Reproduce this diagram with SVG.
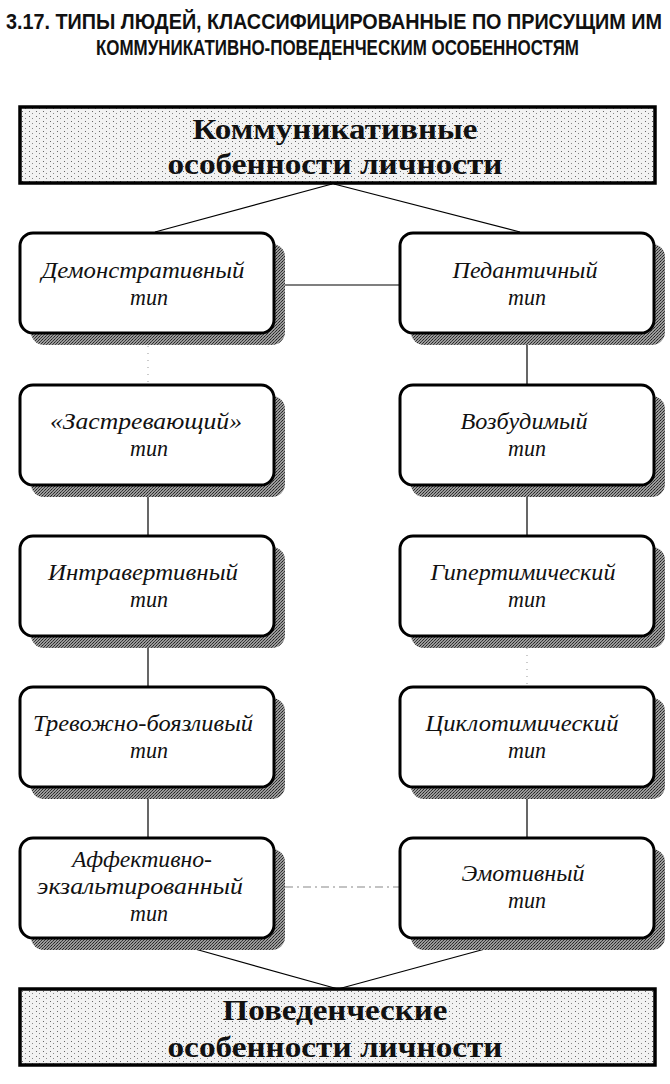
<svg xmlns="http://www.w3.org/2000/svg" width="670" height="1084" viewBox="0 0 670 1084">
<defs>
<pattern id="dots" width="7" height="5" patternUnits="userSpaceOnUse">
<rect width="7" height="5" fill="#f2f2f2"/>
<rect x="1" y="1" width="1" height="1" fill="#666"/>
<rect x="4" y="3" width="1" height="1" fill="#888"/>
</pattern>
<pattern id="shade" width="3" height="3" patternUnits="userSpaceOnUse">
<rect width="3" height="3" fill="#9a9a9a"/>
<rect x="0" y="0" width="1" height="1" fill="#222"/>
<rect x="2" y="1" width="1" height="1" fill="#333"/>
<rect x="1" y="2" width="1" height="1" fill="#444"/>
</pattern>
<style>
.title{font-family:"Liberation Sans",Arial,sans-serif;font-weight:bold;font-size:17px;fill:#111}
.big{fill:url(#dots);stroke:#000;stroke-width:3.5}
.bt{font-family:"Liberation Serif","Times New Roman",serif;font-weight:bold;font-size:30px;fill:#111;text-anchor:middle}
.shadow{fill:url(#shade)}
.node{fill:#fff;stroke:#000;stroke-width:3}
.nt{font-family:"Liberation Serif","Times New Roman",serif;font-style:italic;font-size:23px;fill:#111;text-anchor:middle}
.c{stroke:#000;stroke-width:1.2;fill:none}
.faint{stroke:#aaa;stroke-width:1.2;stroke-dasharray:1 6;fill:none}
.dashdot{stroke:#888;stroke-width:1.2;stroke-dasharray:8 4 2 4;fill:none}
</style>
</defs>
<rect width="670" height="1084" fill="#fff"/>
<g id="title" transform="scale(1,1.25)">
<text class="title" x="6" y="23.2" textLength="656" lengthAdjust="spacingAndGlyphs">3.17. ТИПЫ ЛЮДЕЙ, КЛАССИФИЦИРОВАННЫЕ ПО ПРИСУЩИМ ИМ</text>
<text class="title" x="96" y="44" textLength="483" lengthAdjust="spacingAndGlyphs">КОММУНИКАТИВНО-ПОВЕДЕНЧЕСКИМ ОСОБЕННОСТЯМ</text>
</g>
<g id="connectors">
<line class="c" x1="332" y1="184" x2="155" y2="232"/>
<line class="c" x1="334" y1="184" x2="520" y2="232"/>
<line class="c" x1="285" y1="285" x2="400" y2="285"/>
<line class="faint" x1="148" y1="346" x2="148" y2="384"/>
<line class="c" x1="527" y1="345" x2="527" y2="384"/>
<line class="c" x1="148" y1="497" x2="148" y2="535"/>
<line class="c" x1="527" y1="497" x2="527" y2="535"/>
<line class="c" x1="148" y1="648" x2="148" y2="686"/>
<line class="faint" x1="527" y1="648" x2="527" y2="686"/>
<line class="c" x1="148" y1="799" x2="148" y2="838"/>
<line class="c" x1="527" y1="799" x2="527" y2="838"/>
<line class="dashdot" x1="285" y1="887" x2="400" y2="887"/>
<line class="c" x1="195" y1="949" x2="338" y2="989"/>
<line class="c" x1="485" y1="949" x2="338" y2="989"/>
</g>
<g id="top">
<rect class="big" x="20" y="107" width="635" height="76"/>
<text class="bt" x="335" y="139" textLength="285" lengthAdjust="spacingAndGlyphs">Коммуникативные</text>
<text class="bt" x="335" y="174" textLength="335" lengthAdjust="spacingAndGlyphs">особенности личности</text>
</g>
<g id="n-demonstr">
<rect class="shadow" x="31" y="244" width="254" height="101" rx="13"/>
<rect class="node" x="20" y="233" width="254" height="100" rx="13"/>
<text class="nt" x="143" y="278" textLength="203" lengthAdjust="spacingAndGlyphs">Демонстративный</text>
<text class="nt" x="149" y="305" textLength="38" lengthAdjust="spacingAndGlyphs">тип</text>
</g>
<g id="n-pedant">
<rect class="shadow" x="411" y="244" width="254" height="101" rx="13"/>
<rect class="node" x="400" y="233" width="254" height="100" rx="13"/>
<text class="nt" x="525" y="278" textLength="145" lengthAdjust="spacingAndGlyphs">Педантичный</text>
<text class="nt" x="527" y="305" textLength="38" lengthAdjust="spacingAndGlyphs">тип</text>
</g>
<g id="n-zastr">
<rect class="shadow" x="31" y="396" width="254" height="101" rx="13"/>
<rect class="node" x="20" y="385" width="254" height="100" rx="13"/>
<text class="nt" x="146" y="429" textLength="192" lengthAdjust="spacingAndGlyphs">«Застревающий»</text>
<text class="nt" x="149" y="456" textLength="38" lengthAdjust="spacingAndGlyphs">тип</text>
</g>
<g id="n-vozb">
<rect class="shadow" x="411" y="396" width="254" height="101" rx="13"/>
<rect class="node" x="400" y="385" width="254" height="100" rx="13"/>
<text class="nt" x="524" y="429" textLength="127" lengthAdjust="spacingAndGlyphs">Возбудимый</text>
<text class="nt" x="527" y="456" textLength="38" lengthAdjust="spacingAndGlyphs">тип</text>
</g>
<g id="n-intra">
<rect class="shadow" x="31" y="547" width="254" height="101" rx="13"/>
<rect class="node" x="20" y="536" width="254" height="100" rx="13"/>
<text class="nt" x="143" y="580" textLength="190" lengthAdjust="spacingAndGlyphs">Интравертивный</text>
<text class="nt" x="149" y="607" textLength="38" lengthAdjust="spacingAndGlyphs">тип</text>
</g>
<g id="n-giper">
<rect class="shadow" x="411" y="547" width="254" height="101" rx="13"/>
<rect class="node" x="400" y="536" width="254" height="100" rx="13"/>
<text class="nt" x="523" y="580" textLength="185" lengthAdjust="spacingAndGlyphs">Гипертимический</text>
<text class="nt" x="527" y="607" textLength="38" lengthAdjust="spacingAndGlyphs">тип</text>
</g>
<g id="n-trev">
<rect class="shadow" x="31" y="698" width="254" height="101" rx="13"/>
<rect class="node" x="20" y="687" width="254" height="100" rx="13"/>
<text class="nt" x="143" y="731" textLength="220" lengthAdjust="spacingAndGlyphs">Тревожно-боязливый</text>
<text class="nt" x="149" y="758" textLength="38" lengthAdjust="spacingAndGlyphs">тип</text>
</g>
<g id="n-cyklo">
<rect class="shadow" x="411" y="698" width="254" height="101" rx="13"/>
<rect class="node" x="400" y="687" width="254" height="100" rx="13"/>
<text class="nt" x="522" y="731" textLength="193" lengthAdjust="spacingAndGlyphs">Циклотимический</text>
<text class="nt" x="527" y="758" textLength="38" lengthAdjust="spacingAndGlyphs">тип</text>
</g>
<g id="n-affekt">
<rect class="shadow" x="31" y="849" width="254" height="101" rx="13"/>
<rect class="node" x="20" y="838" width="254" height="100" rx="13"/>
<text class="nt" x="142" y="867" textLength="140" lengthAdjust="spacingAndGlyphs">Аффективно-</text>
<text class="nt" x="140" y="894" textLength="206" lengthAdjust="spacingAndGlyphs">экзальтированный</text>
<text class="nt" x="149" y="921" textLength="38" lengthAdjust="spacingAndGlyphs">тип</text>
</g>
<g id="n-emot">
<rect class="shadow" x="411" y="849" width="254" height="101" rx="13"/>
<rect class="node" x="400" y="838" width="254" height="100" rx="13"/>
<text class="nt" x="523" y="881" textLength="123" lengthAdjust="spacingAndGlyphs">Эмотивный</text>
<text class="nt" x="527" y="908" textLength="38" lengthAdjust="spacingAndGlyphs">тип</text>
</g>
<g id="bottom">
<rect class="big" x="20" y="989" width="635" height="76"/>
<text class="bt" x="335" y="1020" textLength="225" lengthAdjust="spacingAndGlyphs">Поведенческие</text>
<text class="bt" x="335" y="1057" textLength="335" lengthAdjust="spacingAndGlyphs">особенности личности</text>
</g>
</svg>
